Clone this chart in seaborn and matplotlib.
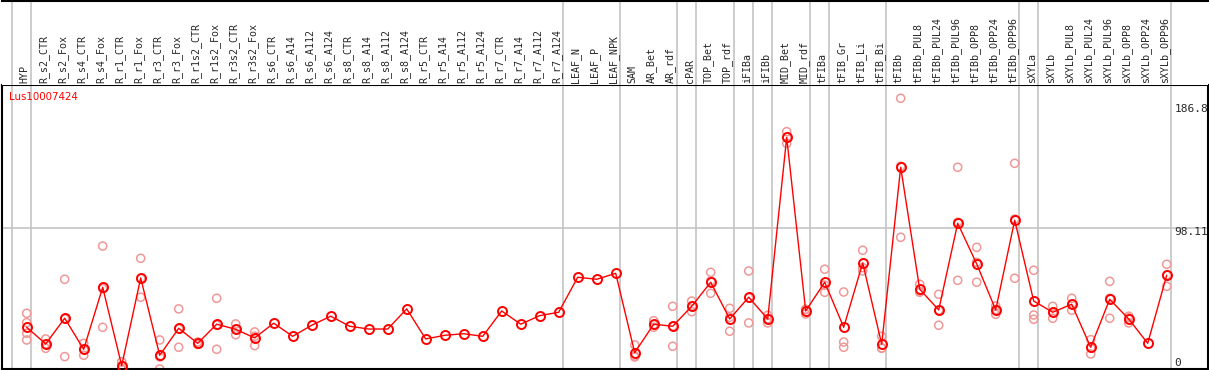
import numpy as np
import pandas as pd
import matplotlib
matplotlib.use('Agg')
import matplotlib.pyplot as plt
import seaborn as sns

# sample names (column headers)
samples = ['HYP',
           'R_s2_CTR', 'R_s2_Fox', 'R_s4_CTR', 'R_s4_Fox', 'R_r1_CTR', 'R_r1_Fox',
           'R_r3_CTR', 'R_r3_Fox', 'R_r1s2_CTR', 'R_r1s2_Fox', 'R_r3s2_CTR', 'R_r3s2_Fox',
           'R_s6_CTR', 'R_s6_A14', 'R_s6_A112', 'R_s6_A124', 'R_s8_CTR', 'R_s8_A14',
           'R_s8_A112', 'R_s8_A124', 'R_r5_CTR', 'R_r5_A14', 'R_r5_A112', 'R_r5_A124',
           'R_r7_CTR', 'R_r7_A14', 'R_r7_A112', 'R_r7_A124',
           'LEAF_N', 'LEAF_P', 'LEAF_NPK',
           'SAM', 'AR_Bet', 'AR_rdf',
           'cPAR',
           'TOP_Bet', 'TOP_rdf',
           'iFIBa', 'iFIBb',
           'MID_Bet', 'MID_rdf',
           'tFIBa',
           'tFIB_Gr', 'tFIB_Li', 'tFIB_Bi',
           'tFIBb', 'tFIBb_PUL8', 'tFIBb_PUL24', 'tFIBb_PUL96', 'tFIBb_OPP8',
           'tFIBb_OPP24', 'tFIBb_OPP96',
           'sXYLa',
           'sXYLb', 'sXYLb_PUL8', 'sXYLb_PUL24', 'sXYLb_PUL96', 'sXYLb_OPP8',
           'sXYLb_OPP24', 'sXYLb_OPP96']

# tissue group of each sample (separator lines between groups)
groups = (['HYP'] + ['R'] * 28 + ['LEAF'] * 3 + ['SAM_AR'] * 3 + ['cPAR']
          + ['TOP'] * 2 + ['iFIBa', 'iFIBb'] + ['MID'] * 2 + ['tFIBa']
          + ['tFIB'] * 3 + ['tFIBb'] * 7 + ['sXYLa'] + ['sXYLb'] * 7)

# mean expression per sample
means = [29.8,
         18.4, 36.0, 14.7, 57.2, 3.5, 63.6, 10.6, 29.1, 18.8, 31.9, 28.4, 22.5,
         32.6, 23.6, 31.2, 37.4, 30.5, 28.6, 28.6, 42.4, 21.8, 24.3, 25.4, 23.6,
         41.0, 31.9, 37.8, 40.1,
         64.1, 62.7, 66.8,
         12.4, 31.9, 30.5,
         44.2,
         60.7, 35.5,
         50.4, 35.5,
         160.0, 41.0,
         60.7,
         29.8, 73.9, 18.2,
         139.5, 55.9, 41.7, 101.1, 73.2, 41.7, 103.2,
         47.8,
         40.1, 45.6, 16.1, 49.0, 35.5, 18.8, 65.5]

# individual replicates per sample
reps = [[39.4, 33.0, 25.7, 21.1],
        [21.8, 15.4, 18.4], [62.7, 9.7, 35.6], [18.8, 10.6, 14.7], [85.5, 29.8, 56.3],
        [6.2, 3.5, 0.8], [77.1, 50.4, 63.3], [21.1, 1.2, 9.5], [42.4, 16.1, 28.8],
        [19.7, 18.0, 18.7], [49.7, 14.7, 31.3], [32.1, 24.7, 28.4], [26.6, 17.2, 23.7],
        [], [], [], [], [], [], [], [], [], [], [], [], [], [], [], [],
        [], [], [],
        [17.7, 10.1, 9.4], [34.3, 29.8, 31.6], [44.2, 16.8, 30.5],
        [47.8, 40.5, 44.3],
        [67.5, 53.1, 61.5], [42.8, 27.1, 36.6],
        [68.4, 32.8, 50.0], [38.0, 32.8, 35.7],
        [163.9, 155.9, 160.2], [42.2, 38.9, 41.9],
        [69.6, 53.8, 58.7],
        [54.0, 19.7, 16.1], [82.6, 68.4, 70.7], [23.6, 15.4, 15.6],
        [186.8, 91.5, 140.2], [59.3, 53.8, 54.6], [52.4, 31.2, 41.5],
        [139.5, 62.0, 101.8], [84.6, 60.7, 74.3], [44.4, 38.7, 41.9],
        [142.2, 63.4, 104.0],
        [68.9, 38.2, 35.3],
        [44.2, 36.0, 40.1], [49.7, 41.5, 45.6], [21.3, 11.5, 15.5], [61.3, 36.0, 49.7],
        [37.4, 32.8, 36.3], [], [73.0, 57.9, 65.6]]

gene = 'Lus10007424'
y_labels = [186.8, 98.11, 0]
ref_line = 98.11

n = len(samples)
df_mean = pd.DataFrame({'pos': np.arange(n), 'value': means})
df_rep = pd.DataFrame([(i, v) for i, r in enumerate(reps) for v in r],
                      columns=['pos', 'value'])

sns.set_style('white')
plt.rcParams['font.family'] = ['DejaVu Sans']

W, H = 1209, 370
fig = plt.figure(figsize=(W / 100, H / 100), dpi=100)
ax = fig.add_axes([1.5 / W, 1 / H, 1206 / W, 284 / H])
hd = fig.add_axes([1.5 / W, 285 / H, 1206 / W, 84.5 / H])

xlim = (-1.326, 62.147)
grey = '#c4c4c4'

# group separator lines
bounds = [0] + [i for i in range(1, n) if groups[i] != groups[i - 1]] + [n]
for b in bounds:
    for a in (ax, hd):
        a.axvline(b - 0.79, color=grey, lw=1.2, zorder=0)
ax.axhline(ref_line, color=grey, lw=1.2, zorder=0)

# replicates and means
sns.scatterplot(data=df_rep, x='pos', y='value', ax=ax, marker='o', s=34,
                facecolor='none', edgecolor='#f09898', linewidth=1.1, zorder=2,
                legend=False)
sns.lineplot(data=df_mean, x='pos', y='value', ax=ax, color='red', lw=1.0,
             marker='o', markersize=6.5, markerfacecolor='none',
             markeredgecolor='red', markeredgewidth=1.4, zorder=3)

ax.set_xlim(*xlim)
ax.set_ylim(1.2, 195.9)
ax.set_xticks([])
ax.set_yticks([])
ax.set_xlabel('')
ax.set_ylabel('')
for s in ax.spines.values():
    s.set_color('black')
    s.set_linewidth(1.5)

ax.text(0.0065, 0.957, gene, transform=ax.transAxes, color='red', fontsize=7.4,
        va='center', ha='left')

offsets = {186.8: -10.7, 98.11: -4.6, 0: 8}
for v in y_labels:
    ax.annotate(f'{v:g}', xy=(0.9725, v), xycoords=('axes fraction', 'data'),
                xytext=(0, offsets[v]), textcoords='offset pixels',
                va='center', ha='left', fontsize=8, family='DejaVu Sans Mono',
                annotation_clip=False, clip_on=True)

# header with rotated sample names
hd.set_xlim(*xlim)
hd.set_ylim(0, 1)
hd.set_xticks([])
hd.set_yticks([])
for k in ('left', 'right', 'bottom'):
    hd.spines[k].set_visible(False)
hd.spines['top'].set_linewidth(1.5)
hd.spines['top'].set_color('black')
for i, name in enumerate(samples):
    hd.text(i - 0.1, 0.025, name, rotation=90, ha='center', va='bottom',
            fontsize=7.2, family='DejaVu Sans Mono')

fig.savefig('out.png', dpi=100)
